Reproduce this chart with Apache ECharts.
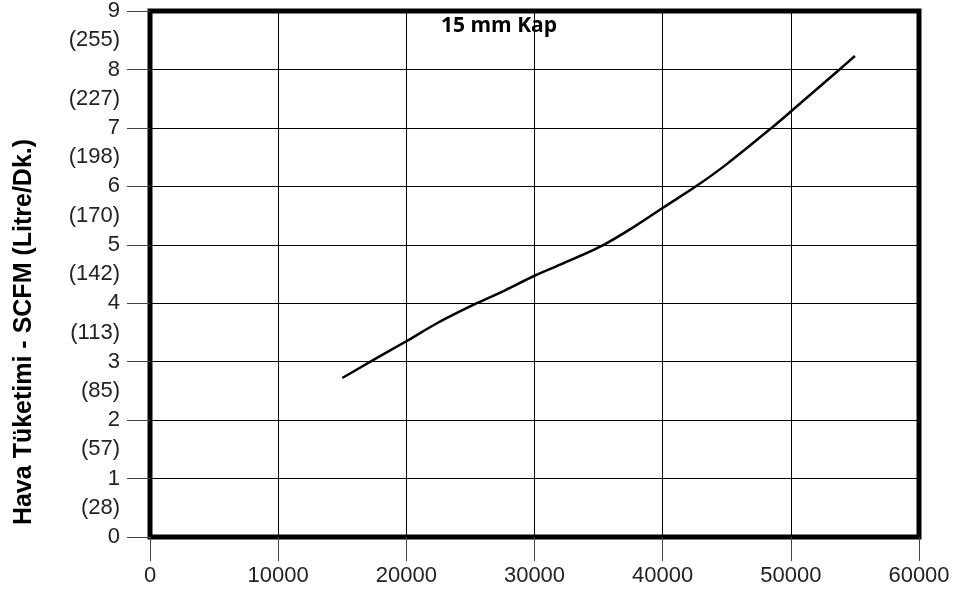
<!DOCTYPE html>
<html>
<head>
<meta charset="utf-8">
<script src="https://cdn.jsdelivr.net/npm/echarts@6/dist/echarts.min.js"></script>
<style>html,body{margin:0;padding:0;background:#fff;}#c{width:963px;height:597px;}</style>
</head>
<body>
<div id="c"></div>
<script>
var titleText = '15 mm Kap';
var yAxisTitle = 'Hava Tüketimi - SCFM (Litre/Dk.)';
var flowX = [15000, 17200, 20000, 22500, 25500, 27500, 30000, 32000, 35400, 38000, 40000, 42600, 45000, 48500, 50000, 53800, 55000];
var scfmY = [2.72, 3.0, 3.35, 3.67, 4.0, 4.2, 4.47, 4.66, 5.0, 5.34, 5.63, 6.0, 6.38, 7.0, 7.28, 8.0, 8.23];
var litreLabels = ['(28)', '(57)', '(85)', '(113)', '(142)', '(170)', '(198)', '(227)', '(255)'];

var chart = echarts.init(document.getElementById('c'), null, {renderer: 'canvas'});
var font = 'Liberation Sans, Arial, sans-serif';
var titleFont = 'Open Sans, sans-serif';
chart.setOption({
  animation: false,
  backgroundColor: '#fff',
  title: {
    text: titleText,
    left: 436, top: 11,
    textStyle: {fontFamily: titleFont, fontWeight: 'bold', fontSize: 21, color: '#000'}
  },
  graphic: [{
    type: 'text',
    x: 24, y: 332,
    rotation: Math.PI / 2,
    style: {text: yAxisTitle, fontFamily: font, fontWeight: 'bold', fontSize: 25, fill: '#000', align: 'center', verticalAlign: 'middle'}
  }],
  grid: {left: 150, right: 44, top: 9, bottom: 60, show: true, borderWidth: 5, borderColor: '#000', backgroundColor: 'transparent'},
  xAxis: {
    type: 'value', min: 0, max: 60000, interval: 10000,
    axisLine: {show: false},
    axisTick: {show: true, length: 24, lineStyle: {color: '#444', width: 1}},
    axisLabel: {margin: 28, fontSize: 22, color: '#222', fontFamily: font, formatter: function (v) { return String(v); }},
    splitLine: {show: true, lineStyle: {color: '#000', width: 1}}
  },
  yAxis: [{
    type: 'value', min: 0, max: 9, interval: 1,
    axisLine: {show: false},
    axisTick: {show: true, length: 23, lineStyle: {color: '#444', width: 1}},
    axisLabel: {margin: 30, fontSize: 22, color: '#222', fontFamily: font},
    splitLine: {show: true, lineStyle: {color: '#000', width: 1}}
  }, {
    type: 'value', min: 0, max: 9, interval: 0.5, position: 'left',
    axisLine: {show: false}, axisTick: {show: false}, splitLine: {show: false},
    axisLabel: {margin: 30, fontSize: 22, color: '#222', fontFamily: font,
      formatter: function (v) {
        if (Math.abs(v % 1 - 0.5) < 1e-6) { return litreLabels[Math.floor(v)]; }
        return '';
      }}
  }],
  series: [{
    type: 'line',
    data: flowX.map(function (x, i) { return [x, scfmY[i]]; }),
    smooth: 0.3, showSymbol: false,
    lineStyle: {color: '#000', width: 2.5}
  }]
});
</script>
</body>
</html>
